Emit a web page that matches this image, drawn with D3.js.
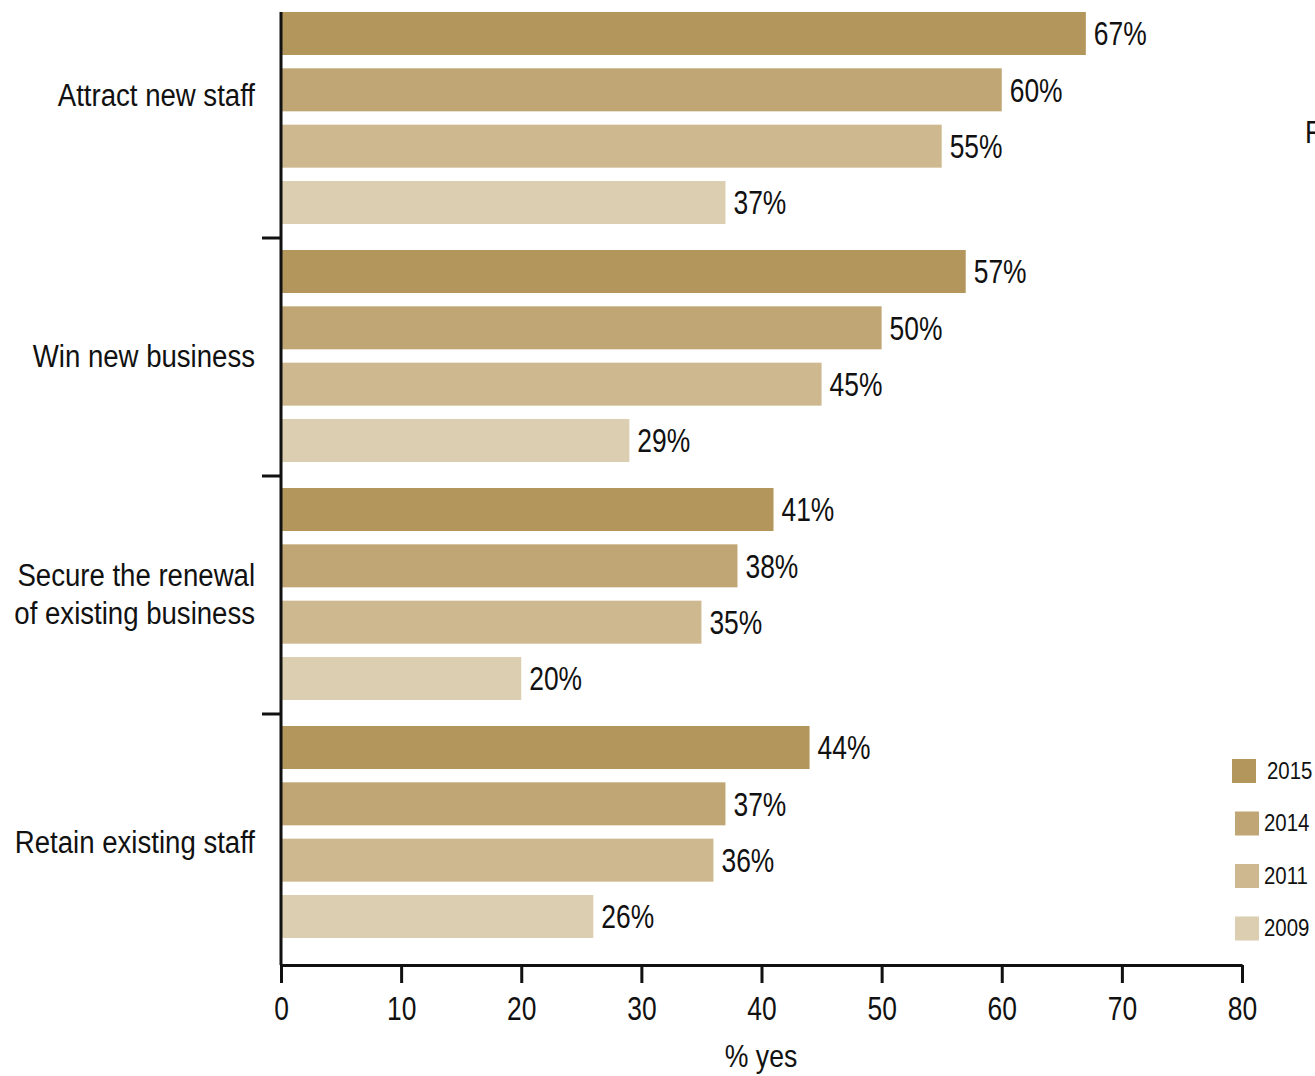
<!DOCTYPE html>
<html>
<head>
<meta charset="utf-8">
<script src="https://cdn.jsdelivr.net/npm/d3@7"></script>
<style>
  html, body { margin: 0; padding: 0; background: #fff; overflow: hidden; }
  svg { display: block; }
  text { font-family: "Liberation Sans Narrow", "Arial Narrow", "Liberation Sans", Arial, sans-serif; fill: #111; }
</style>
</head>
<body>
<svg id="chart" width="1315" height="1076"></svg>
<script>
// Survey reasons, top to bottom
const categories = ["Attract new staff", "Win new business", "Secure the renewal of existing business", "Retain existing staff"];
// Display lines for each category label
const categoryLines = [["Attract new staff"], ["Win new business"], ["Secure the renewal", "of existing business"], ["Retain existing staff"]];
// Survey years, drawn top to bottom inside each group
const years = ["2015", "2014", "2011", "2009"];
// % answering yes, one array per year, in category order
const values2015 = [67, 57, 41, 44];
const values2014 = [60, 50, 38, 37];
const values2011 = [55, 45, 35, 36];
const values2009 = [37, 29, 20, 26];
const xTicks = [0, 10, 20, 30, 40, 50, 60, 70, 80];
const xLabel = "% yes";

const seriesByYear = { "2015": values2015, "2014": values2014, "2011": values2011, "2009": values2009 };
const colors = { "2015": "#b3965c", "2014": "#bfa674", "2011": "#cdb88f", "2009": "#dbceb1" };

const svg = d3.select("#chart");
const plotLeft = 281, plotRight = 1242, plotTop = 0, plotBottom = 952, axisY = 965;

// Squeeze text horizontally about its own anchor point to get a condensed face
function condense(sel, f) {
  sel.each(function () {
    const t = d3.select(this);
    const ax = +t.attr("x") || 0, ay = +t.attr("y") || 0;
    t.attr("transform", `translate(${ax},${ay}) scale(${f},1) translate(${-ax},${-ay})`);
  });
}

const x = d3.scaleLinear().domain([0, 80]).range([plotLeft, plotRight]);
const yGroup = d3.scaleBand().domain(categories).range([plotTop, plotBottom]).padding(0);
const yInner = d3.scaleBand().domain(years).range([12, 224]).paddingInner(0.2367).paddingOuter(0);

const rows = [];
categories.forEach((c, i) => years.forEach(yr => rows.push({ cat: c, year: yr, value: seriesByYear[yr][i] })));

// Bars
svg.append("g").selectAll("rect").data(rows).join("rect")
  .attr("x", x(0))
  .attr("y", d => yGroup(d.cat) + yInner(d.year))
  .attr("width", d => x(d.value) - x(0))
  .attr("height", yInner.bandwidth())
  .attr("fill", d => colors[d.year]);

// Value labels
svg.append("g").selectAll("text").data(rows).join("text")
  .attr("x", d => x(d.value) + 8)
  .attr("y", d => yGroup(d.cat) + yInner(d.year) + yInner.bandwidth() / 2 + 12)
  .style("font-size", "33px")
  .text(d => d.value + "%")
  .call(condense, 0.8);

// Vertical axis line with group separators
const yAxisG = svg.append("g");
yAxisG.append("line").attr("x1", plotLeft).attr("x2", plotLeft).attr("y1", 12).attr("y2", axisY)
  .attr("stroke", "#111").attr("stroke-width", 3);
yAxisG.selectAll("line.sep").data(categories.slice(1)).join("line").attr("class", "sep")
  .attr("x1", plotLeft - 19).attr("x2", plotLeft)
  .attr("y1", d => yGroup(d)).attr("y2", d => yGroup(d))
  .attr("stroke", "#111").attr("stroke-width", 3);

// Category labels, one text per line
const labelNudge = [-23, 0, 0, 10];
const catLines = [];
categories.forEach((c, i) => {
  const lines = categoryLines[i];
  const cy = yGroup(c) + 12 + 106 + labelNudge[i];
  lines.forEach((l, j) => catLines.push({ text: l, y: cy + (j - (lines.length - 1) / 2) * 38 + 11 }));
});
svg.append("g").selectAll("text").data(catLines).join("text")
  .attr("text-anchor", "end")
  .attr("x", 255)
  .attr("y", d => d.y)
  .style("font-size", "31px")
  .text(d => d.text)
  .call(condense, 0.89);

// Horizontal axis
const xAxis = d3.axisBottom(x).tickValues(xTicks).tickSize(18).tickPadding(14).tickSizeOuter(0);
const xg = svg.append("g").attr("transform", `translate(0,${axisY})`).call(xAxis);
xg.attr("font-family", null).attr("font-size", null);
xg.select(".domain").attr("stroke", "#111").attr("stroke-width", 3);
xg.selectAll(".tick line").attr("stroke", "#111").attr("stroke-width", 3);
xg.selectAll(".tick text").style("font-size", "33px").attr("fill", "#111")
  .attr("x", 0).call(condense, 0.8);

svg.append("text").attr("x", 761).attr("y", 1067).attr("text-anchor", "middle")
  .style("font-size", "31px").text(xLabel).call(condense, 0.86);

// Legend
const lg = svg.append("g");
years.forEach((yr, i) => {
  const ly = 759 + i * 52.5;
  lg.append("rect").attr("x", i === 0 ? 1232 : 1235).attr("y", ly).attr("width", 24).attr("height", 24).attr("fill", colors[yr]);
  lg.append("text").attr("x", i === 0 ? 1267 : 1264).attr("y", ly + 20)
    .style("font-size", "24px").text(yr).call(condense, 0.85);
});

// Partly visible side heading
svg.append("text").attr("x", 1305).attr("y", 143).style("font-size", "31px").text("F").call(condense, 0.87);
</script>
</body>
</html>
